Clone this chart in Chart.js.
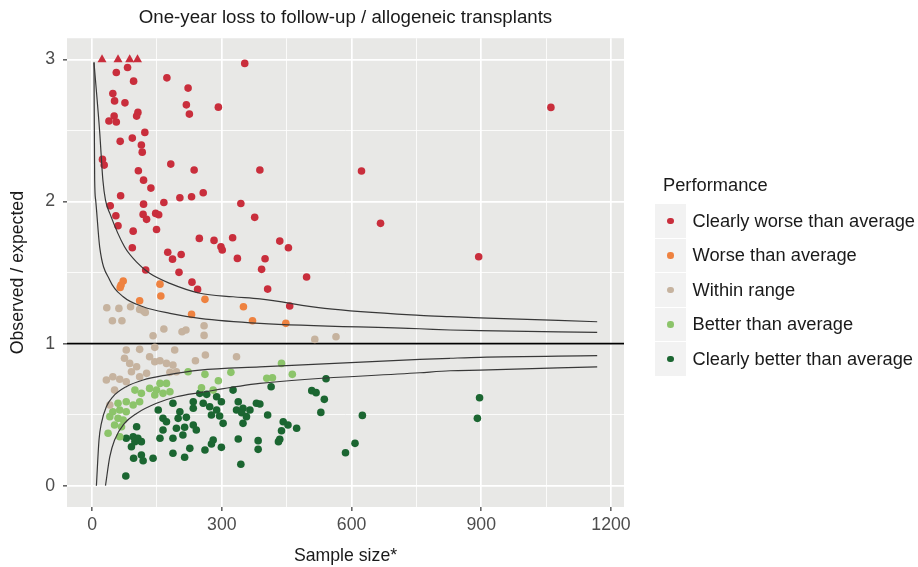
<!DOCTYPE html>
<html>
<head>
<meta charset="utf-8">
<script src="https://cdn.jsdelivr.net/npm/chart.js@4.4.0/dist/chart.umd.min.js"></script>
<style>
html,body{margin:0;padding:0;background:#fff;}
#wrap{position:relative;width:918px;height:567px;font-family:"Liberation Sans",Arial,Helvetica,sans-serif;}
#legend{position:absolute;left:655px;top:172px;color:#1a1a1a;font-size:18.3px;}
#legend .ttl{position:absolute;left:8px;top:0;line-height:26px;white-space:nowrap;}
#legend .row{position:absolute;left:0;height:33.5px;display:flex;align-items:center;white-space:nowrap;}
#legend .key{width:31px;height:33.5px;background:#F2F2F2;position:relative;}
#legend .dot{position:absolute;left:12px;top:13.5px;width:6.5px;height:6.5px;border-radius:50%;}
#legend .lab{margin-left:6.5px;}
</style>
</head>
<body>
<div id="wrap">
<canvas id="c" width="918" height="567"></canvas>
<div id="legend"></div>
</div>
<script>
// ---------- data ----------
const chartTitle = "One-year loss to follow-up / allogeneic transplants";
const xAxisTitle = "Sample size*";
const yAxisTitle = "Observed / expected";
const legendTitle = "Performance";
const categories = ["Clearly worse than average","Worse than average","Within range","Better than average","Clearly better than average"];
const categoryColors = ["#C92E3C","#EE8240","#C6B39F","#8CC46A","#1B6631"];

const xTickLabels = [0,300,600,900,1200];
const xMinorTicks = [150,450,750,1050];
const yTickLabels = [0,1,2,3];
const yMinorTicks = [0.5,1.5,2.5];
const referenceValue = 1;

// values above the axis limit, shown as triangles at 3
const clearlyWorseCapped = [[23,3],[60,3],[87,3],[105,3]];
const clearlyWorse = [
 [353,2.973],[56,2.909],[82,2.944],[96,2.848],[173,2.871],[222,2.799],[48,2.761],[52,2.709],[76,2.695],
 [218,2.681],[292,2.665],[225,2.616],[106,2.628],[103,2.602],[51,2.602],[39,2.567],[56,2.560],[122,2.487],
 [65,2.424],[93,2.447],[114,2.398],[116,2.348],[24,2.297],[28,2.257],[182,2.264],[107,2.217],[236,2.222],
 [119,2.151],[136,2.095],[66,2.041],[388,2.222],[257,2.062],[203,2.027],[230,2.034],[166,1.994],[119,1.982],
 [42,1.970],[344,1.987],[376,1.889],[55,1.900],[118,1.910],[126,1.875],[147,1.917],[154,1.907],[60,1.830],
 [95,1.792],[149,1.804],[248,1.741],[282,1.727],[298,1.682],[301,1.659],[325,1.745],[93,1.675],[175,1.643],
 [186,1.595],[206,1.628],[336,1.600],[124,1.518],[201,1.502],[231,1.433],[244,1.382],[392,1.523],[400,1.598],
 [623,2.215],[667,1.847],[434,1.722],[454,1.675],[496,1.469],[406,1.384],[457,1.265],[1061,2.663],[894,1.612]
];
const worse = [
 [72,1.441],[67,1.412],[65,1.396],[157,1.419],[159,1.335],[110,1.302],[261,1.312],[230,1.206],[350,1.260],
 [371,1.161],[448,1.143]
];
const withinRange = [
 [34,1.253],[62,1.248],[89,1.260],[110,1.241],[119,1.229],[123,1.220],[47,1.161],[69,1.161],[166,1.103],
 [208,1.084],[217,1.096],[259,1.126],[259,1.058],[141,1.056],[515,1.030],[564,1.049],
 [79,0.955],[110,0.960],[145,0.974],[191,0.955],[262,0.920],[334,0.908],[239,0.880],[75,0.897],[87,0.861],
 [133,0.908],[145,0.873],[157,0.880],[172,0.861],[187,0.849],[103,0.837],[91,0.802],[180,0.798],[195,0.802],
 [48,0.767],[33,0.744],[64,0.749],[79,0.732],[126,0.791],[110,0.767],[52,0.673],[41,0.568]
];
const better = [
 [222,0.802],[261,0.784],[292,0.739],[321,0.798],[157,0.720],[172,0.720],[133,0.685],[149,0.673],[164,0.650],
 [180,0.661],[145,0.638],[99,0.673],[114,0.650],[79,0.591],[95,0.568],[110,0.591],[60,0.580],[64,0.533],
 [79,0.521],[48,0.521],[60,0.474],[72,0.462],[41,0.486],[52,0.427],[68,0.415],[37,0.369],[64,0.345],
 [438,0.861],[404,0.756],[417,0.760],[463,0.784],[253,0.690],[280,0.673]
];
const clearlyBetter = [
 [249,0.650],[265,0.643],[288,0.626],[326,0.673],[187,0.580],[234,0.591],[257,0.580],[299,0.591],[338,0.591],
 [380,0.580],[153,0.533],[203,0.521],[234,0.545],[272,0.556],[288,0.533],[334,0.533],[349,0.545],[365,0.533],
 [164,0.474],[172,0.450],[199,0.474],[218,0.481],[276,0.498],[295,0.491],[349,0.439],[103,0.415],[164,0.392],
 [195,0.404],[214,0.411],[234,0.427],[241,0.392],[210,0.357],[187,0.334],[79,0.334],[95,0.345],[106,0.334],
 [114,0.310],[91,0.274],[99,0.310],[157,0.334],[280,0.322],[261,0.251],[299,0.270],[338,0.329],[187,0.228],
 [214,0.200],[226,0.263],[96,0.193],[114,0.216],[118,0.176],[141,0.193],[344,0.151],[78,0.068],[384,0.256],
 [541,0.753],[414,0.697],[508,0.669],[518,0.655],[537,0.608],[529,0.516],[625,0.495],[388,0.575],[346,0.514],
 [357,0.486],[406,0.498],[303,0.439],[442,0.450],[453,0.427],[473,0.404],[438,0.387],[434,0.327],[431,0.310],
 [384,0.317],[276,0.293],[608,0.298],[586,0.232],[896,0.619],[891,0.474]
];

// control-limit curves
const upperOuter = [[4.4,2.98],[17.6,2.49],[25,2.15],[31,2.01],[41,1.917],[75,1.682],[106,1.565],[133,1.495],[180,1.424],[249,1.355],[326,1.33],[388,1.315],[538,1.248],[758,1.199],[828,1.19],[897,1.182],[1168,1.154]];
const upperInner = [[4.4,2.98],[6,2.15],[8.3,2.01],[17.6,1.68],[41,1.447],[72,1.33],[118,1.26],[180,1.213],[249,1.178],[388,1.143],[758,1.105],[828,1.096],[897,1.091],[1168,1.080]];
const lowerInner = [[10,0],[16,0.322],[21.5,0.439],[33,0.556],[48,0.626],[79,0.697],[118,0.744],[172,0.779],[249,0.814],[388,0.837],[758,0.889],[828,0.897],[897,0.904],[1168,0.915]];
const lowerOuter = [[31,0],[41,0.204],[52,0.322],[75,0.439],[103,0.509],[149,0.580],[195,0.626],[249,0.655],[388,0.720],[758,0.795],[828,0.809],[897,0.814],[1168,0.837]];

// ---------- chart ----------
const FONT = '"Liberation Sans", Arial, Helvetica, sans-serif';
const toXY = arr => arr.map(p => ({x:p[0], y:p[1]}));

function pointSet(label, arr, color, style, radius){
  return {type:'scatter', label, data:toXY(arr), backgroundColor:color, borderWidth:0,
          pointStyle:style, pointRadius:radius, pointHoverRadius:radius, order:2};
}
function curveSet(arr){
  return {type:'line', label:'limit', data:toXY(arr), borderColor:'#383838', borderWidth:1.2,
          pointRadius:0, fill:false, cubicInterpolationMode:'monotone', order:0};
}

const datasets = [
  pointSet(categories[2], withinRange, categoryColors[2], 'circle', 3.8),
  pointSet(categories[3], better, categoryColors[3], 'circle', 3.8),
  pointSet(categories[4], clearlyBetter, categoryColors[4], 'circle', 3.8),
  pointSet(categories[1], worse, categoryColors[1], 'circle', 3.8),
  pointSet(categories[0], clearlyWorse, categoryColors[0], 'circle', 3.8),
  pointSet(categories[0], clearlyWorseCapped, categoryColors[0], 'triangle', 5.2),
  curveSet(upperOuter), curveSet(upperInner), curveSet(lowerInner), curveSet(lowerOuter)
];

const panelPlugin = {
  id:'panel',
  beforeDraw(chart){
    const {ctx, chartArea:a} = chart;
    ctx.save(); ctx.fillStyle = '#E8E8E6';
    ctx.fillRect(a.left, a.top, a.right - a.left, a.bottom - a.top); ctx.restore();
  },
  beforeDatasetsDraw(chart){
    const {ctx, chartArea:a} = chart;
    const y = chart.scales.y.getPixelForValue(referenceValue);
    ctx.save(); ctx.strokeStyle = '#000'; ctx.lineWidth = 1.8;
    ctx.beginPath(); ctx.moveTo(a.left, y); ctx.lineTo(a.right, y); ctx.stroke(); ctx.restore();
  }
};

const isMajorX = v => xTickLabels.includes(v);
const isMajorY = v => yTickLabels.includes(v);

new Chart(document.getElementById('c'), {
  type:'scatter',
  data:{datasets},
  plugins:[panelPlugin],
  options:{
    responsive:false, animation:false, devicePixelRatio:1,
    layout:{padding:{left:0, right:294, top:0, bottom:0}},
    plugins:{
      legend:{display:false}, tooltip:{enabled:false},
      title:{display:true, text:chartTitle, fullSize:false, color:'#1a1a1a',
             font:{family:FONT, size:18.7, weight:'normal', lineHeight:1.2}, padding:{top:7, bottom:8.8}}
    },
    scales:{
      x:{
        type:'linear', min:-58, max:1230,
        afterBuildTicks: s => { s.ticks = xTickLabels.concat(xMinorTicks).sort((a,b)=>a-b).map(v=>({value:v})); },
        afterFit: s => { s.height = 60; },
        border:{display:false},
        grid:{color:'#ffffff', lineWidth: c => isMajorX(c.tick.value) ? 1.7 : 0.8,
              drawTicks:true, tickLength:4, tickWidth:1.2,
              tickColor: c => isMajorX(c.tick.value) ? '#333333' : 'rgba(0,0,0,0)'},
        ticks:{autoSkip:false, maxRotation:0, padding:3, color:'#4D4D4D',
               font:{family:FONT, size:17.7}, callback: v => isMajorX(v) ? String(v) : ''},
        title:{display:true, text:xAxisTitle, color:'#1a1a1a', font:{family:FONT, size:17.7, lineHeight:1.2}, padding:{top:0, bottom:0}}
      },
      y:{
        type:'linear', min:-0.15, max:3.15,
        afterBuildTicks: s => { s.ticks = yTickLabels.concat(yMinorTicks).sort((a,b)=>a-b).map(v=>({value:v})); },
        afterFit: s => { s.width = 67; },
        border:{display:false},
        grid:{color:'#ffffff', lineWidth: c => isMajorY(c.tick.value) ? 1.7 : 0.8,
              drawTicks:true, tickLength:4, tickWidth:1.2,
              tickColor: c => isMajorY(c.tick.value) ? '#333333' : 'rgba(0,0,0,0)'},
        ticks:{autoSkip:false, padding:8, color:'#4D4D4D',
               font:{family:FONT, size:17.7}, callback: v => isMajorY(v) ? String(v) : ''},
        title:{display:true, text:yAxisTitle, color:'#1a1a1a', font:{family:FONT, size:17.7, lineHeight:1.2}, padding:{top:7, bottom:0}}
      }
    }
  }
});

// ---------- legend ----------
const lg = document.getElementById('legend');
let html = '<div class="ttl">' + legendTitle + '</div>';
categories.forEach((name, i) => {
  const top = 32 + i * 34.5;
  html += '<div class="row" style="top:' + top + 'px"><div class="key"><div class="dot" style="background:' +
          categoryColors[i] + '"></div></div><div class="lab">' + name + '</div></div>';
});
lg.innerHTML = html;
</script>
</body>
</html>
